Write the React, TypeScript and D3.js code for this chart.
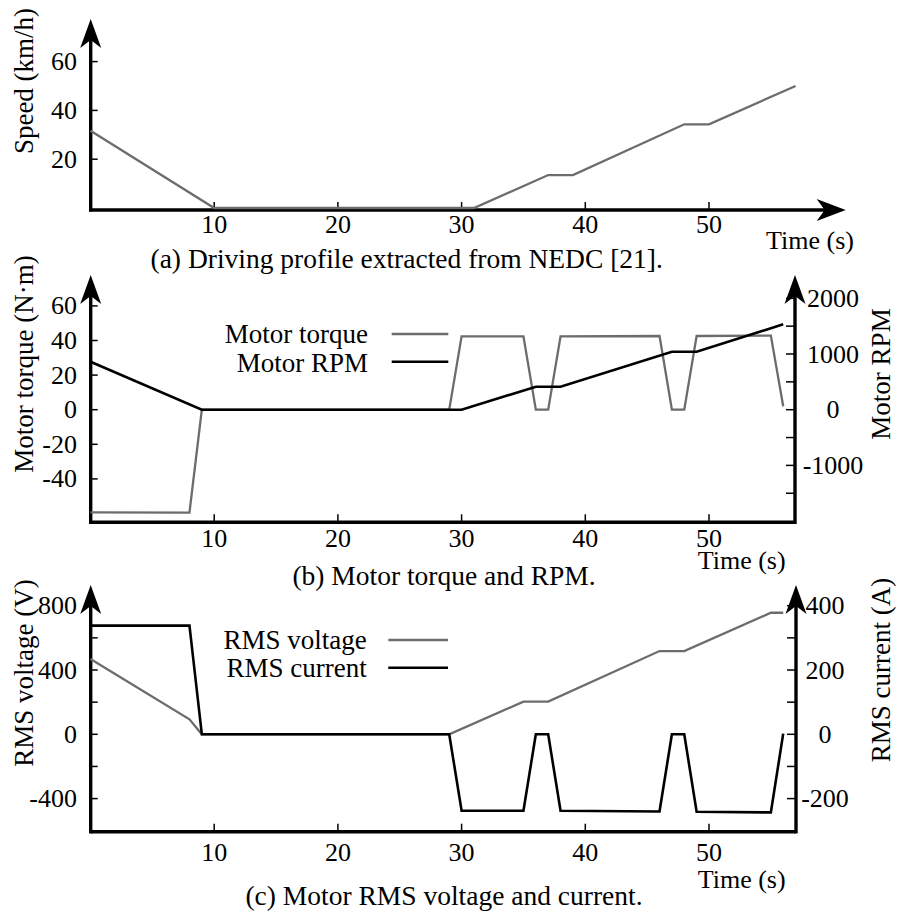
import React from "react";
import * as d3 from "d3";

// ---------- data ----------
const xTicks = [10, 20, 30, 40, 50];

const speedTime = [0, 10, 31, 37, 39, 48, 50, 57];
const speedValue = [31.7, 0, 0, 13.5, 13.5, 34.3, 34.3, 50];
const speedTicks = [20, 40, 60];

const torqueTime = [0, 8, 9, 29, 30, 35, 36, 37, 38, 46, 47, 48, 49, 55, 56];
const torqueValue = [-59.3, -59.5, 0, 0, 42.4, 42.4, 0, 0, 42.4, 42.6, 0, 0, 42.6, 42.8, 2];
const rpmTime = [0, 9, 30, 36, 38, 47, 49, 56];
const rpmValue = [862, 0, 0, 413, 413, 1041, 1041, 1533];
const torqueTicks = [-40, -20, 0, 20, 40, 60];
const rpmTicks = [-1500, -1000, -500, 0, 500, 1000, 1500, 2000];
const rpmLabels = [-1000, 0, 1000, 2000];

const voltTime = [0, 8, 9, 29, 35, 37, 46, 48, 55, 56];
const voltValue = [468, 93, 0, 0, 203, 203, 518, 518, 756, 756];
const currTime = [0, 8, 9, 29, 30, 35, 36, 37, 38, 46, 47, 48, 49, 55, 56];
const currValue = [338, 338, 0, 0, -238, -238, 0, 0, -238, -240, 0, 0, -241, -243, 2];
const voltTicks = [-400, -200, 0, 200, 400, 600, 800];
const voltLabels = [-400, 0, 400, 800];
const currTicks = [-200, -100, 0, 100, 200, 300, 400];
const currLabels = [-200, 0, 200, 400];

// ---------- style ----------
const FONT = "'Liberation Serif', 'Times New Roman', serif";
const GRAY = "#6c6c6c";
const AX = 3.4;

const x = d3.scaleLinear().domain([0, 57]).range([90.5, 90.5 + 12.37 * 57]);

function pts(t: number[], v: number[]): [number, number][] {
  return t.map((d, i) => [d, v[i]]);
}

function upArrow(cx: number, tip: number) {
  return `M${cx},${tip} L${cx - 10.5},${tip + 29} L${cx},${tip + 21} L${cx + 10.5},${tip + 29} Z`;
}
function rightArrow(tipX: number, cy: number) {
  return `M${tipX},${cy} L${tipX - 29},${cy - 11} L${tipX - 21},${cy} L${tipX - 29},${cy + 11} Z`;
}

const TXT = { fontFamily: FONT, fill: "#000" } as const;

function XAxis({ y0, labelY }: { y0: number; labelY: number }) {
  return (
    <g>
      {xTicks.map((t) => (
        <g key={t}>
          <line x1={x(t)} x2={x(t)} y1={y0} y2={y0 - 8} stroke="#000" strokeWidth={1.5} />
          <text x={x(t)} y={labelY} textAnchor="middle" fontSize={26} {...TXT}>
            {t}
          </text>
        </g>
      ))}
    </g>
  );
}

export default function App() {
  // Panel a scales
  const ya = d3.scaleLinear().domain([0, 60]).range([208, 208 - 146.4]);
  // Panel b scales
  const ybL = d3.scaleLinear().domain([0, 60]).range([409.7, 409.7 - 103.8]);
  const ybR = d3.scaleLinear().domain([0, 2000]).range([409.7, 409.7 - 111.4]);
  // Panel c scales
  const ycL = d3.scaleLinear().domain([0, 800]).range([734.3, 734.3 - 128.6]);
  const ycR = d3.scaleLinear().domain([0, 400]).range([734.3, 734.3 - 128.6]);

  const lineA = d3.line<[number, number]>().x((d) => x(d[0])).y((d) => ya(d[1]));
  const lineBL = d3.line<[number, number]>().x((d) => x(d[0])).y((d) => ybL(d[1]));
  const lineBR = d3.line<[number, number]>().x((d) => x(d[0])).y((d) => ybR(d[1]));
  const lineCL = d3.line<[number, number]>().x((d) => x(d[0])).y((d) => ycL(d[1]));
  const lineCR = d3.line<[number, number]>().x((d) => x(d[0])).y((d) => ycR(d[1]));

  const axL = 90.7;
  const axRb = 795;
  const axRc = 796;

  return (
    <div style={{ position: "absolute", left: 0, top: 0 }}>
      <svg width={897} height={913} style={{ display: "block", background: "#fff" }}>
        {/* ================= Panel (a) ================= */}
        <g>
          <line x1={axL} x2={axL} y1={211.5} y2={40} stroke="#000" strokeWidth={AX} />
          <path d={upArrow(axL, 19)} fill="#000" />
          <line x1={axL - 1.7} x2={825} y1={210} y2={210} stroke="#000" strokeWidth={AX} />
          <path d={rightArrow(845.7, 210)} fill="#000" />
          {speedTicks.map((v) => (
            <g key={v}>
              <line x1={axL} x2={axL + 7} y1={ya(v)} y2={ya(v)} stroke="#000" strokeWidth={1.5} />
              <text x={77} y={ya(v)} textAnchor="end" dominantBaseline="central" fontSize={26} {...TXT}>
                {v}
              </text>
            </g>
          ))}
          <XAxis y0={210} labelY={233} />
          <path d={lineA(pts(speedTime, speedValue)) || ""} fill="none" stroke={GRAY} strokeWidth={2.3} />
          <text x={810} y={249} textAnchor="middle" fontSize={26} {...TXT}>
            Time (s)
          </text>
          <text transform={`translate(33,81) rotate(-90)`} textAnchor="middle" fontSize={27} {...TXT}>
            Speed (km/h)
          </text>
          <text x={406.7} y={268} textAnchor="middle" fontSize={27.5} {...TXT}>
            (a) Driving profile extracted from NEDC [21].
          </text>
        </g>

        {/* ================= Panel (b) ================= */}
        <g>
          <line x1={axL} x2={axL} y1={524} y2={296} stroke="#000" strokeWidth={AX} />
          <path d={upArrow(axL, 275)} fill="#000" />
          <line x1={axRb} x2={axRb} y1={524} y2={296} stroke="#000" strokeWidth={AX} />
          <path d={upArrow(axRb, 275)} fill="#000" />
          <line x1={axL} x2={axRb} y1={522.3} y2={522.3} stroke="#000" strokeWidth={AX} />
          {torqueTicks.map((v) => (
            <g key={v}>
              <line x1={axL} x2={axL + 7} y1={ybL(v)} y2={ybL(v)} stroke="#000" strokeWidth={1.5} />
              <text x={77} y={ybL(v)} textAnchor="end" dominantBaseline="central" fontSize={26} {...TXT}>
                {v}
              </text>
            </g>
          ))}
          {rpmTicks.map((v) => (
            <line key={v} x1={axRb - 9} x2={axRb} y1={ybR(v)} y2={ybR(v)} stroke="#000" strokeWidth={1.5} />
          ))}
          {rpmLabels.map((v) => (
            <text key={v} x={833} y={ybR(v)} textAnchor="middle" dominantBaseline="central" fontSize={26} {...TXT}>
              {v}
            </text>
          ))}
          <XAxis y0={522.3} labelY={547} />
          <path d={lineBL(pts(torqueTime, torqueValue)) || ""} fill="none" stroke={GRAY} strokeWidth={2.3} />
          <path d={lineBR(pts(rpmTime, rpmValue)) || ""} fill="none" stroke="#000" strokeWidth={2.6} />
          {/* legend */}
          <text x={368} y={343} textAnchor="end" fontSize={27} {...TXT}>
            Motor torque
          </text>
          <line x1={391.7} x2={448.3} y1={334} y2={334} stroke={GRAY} strokeWidth={2.3} />
          <text x={368} y={371.5} textAnchor="end" fontSize={27} {...TXT}>
            Motor RPM
          </text>
          <line x1={391.7} x2={448.3} y1={361.7} y2={361.7} stroke="#000" strokeWidth={2.6} />
          <text x={741.7} y={569} textAnchor="middle" fontSize={26} {...TXT}>
            Time (s)
          </text>
          <text transform={`translate(33,364) rotate(-90)`} textAnchor="middle" fontSize={27} {...TXT}>
            Motor torque (N·m)
          </text>
          <text transform={`translate(890,374) rotate(-90)`} textAnchor="middle" fontSize={27} {...TXT}>
            Motor RPM
          </text>
          <text x={444} y={585} textAnchor="middle" fontSize={27.5} {...TXT}>
            (b) Motor torque and RPM.
          </text>
        </g>

        {/* ================= Panel (c) ================= */}
        <g>
          <line x1={axL} x2={axL} y1={833.4} y2={606} stroke="#000" strokeWidth={AX} />
          <path d={upArrow(axL, 585)} fill="#000" />
          <line x1={axRc} x2={axRc} y1={833.4} y2={606} stroke="#000" strokeWidth={AX} />
          <path d={upArrow(axRc, 585)} fill="#000" />
          <line x1={axL} x2={axRc} y1={831.7} y2={831.7} stroke="#000" strokeWidth={AX} />
          {voltTicks.map((v) => (
            <line key={v} x1={axL} x2={axL + 7} y1={ycL(v)} y2={ycL(v)} stroke="#000" strokeWidth={1.5} />
          ))}
          {voltLabels.map((v) => (
            <text key={v} x={77} y={ycL(v)} textAnchor="end" dominantBaseline="central" fontSize={26} {...TXT}>
              {v}
            </text>
          ))}
          {currTicks.map((v) => (
            <line key={v} x1={axRc - 9} x2={axRc} y1={ycR(v)} y2={ycR(v)} stroke="#000" strokeWidth={1.5} />
          ))}
          {currLabels.map((v) => (
            <text key={v} x={825} y={ycR(v)} textAnchor="middle" dominantBaseline="central" fontSize={26} {...TXT}>
              {v}
            </text>
          ))}
          <XAxis y0={831.7} labelY={861} />
          <path d={lineCL(pts(voltTime, voltValue)) || ""} fill="none" stroke={GRAY} strokeWidth={2.3} />
          <path d={lineCR(pts(currTime, currValue)) || ""} fill="none" stroke="#000" strokeWidth={2.6} />
          {/* legend */}
          <text x={366.7} y={649} textAnchor="end" fontSize={27} {...TXT}>
            RMS voltage
          </text>
          <line x1={388.3} x2={448} y1={640} y2={640} stroke={GRAY} strokeWidth={2.3} />
          <text x={366.7} y={677} textAnchor="end" fontSize={27} {...TXT}>
            RMS current
          </text>
          <line x1={388.3} x2={448} y1={667.7} y2={667.7} stroke="#000" strokeWidth={2.6} />
          <text x={741.7} y={887.5} textAnchor="middle" fontSize={26} {...TXT}>
            Time (s)
          </text>
          <text transform={`translate(33,673) rotate(-90)`} textAnchor="middle" fontSize={27} {...TXT}>
            RMS voltage (V)
          </text>
          <text transform={`translate(890,670) rotate(-90)`} textAnchor="middle" fontSize={27} {...TXT}>
            RMS current (A)
          </text>
          <text x={444} y={905} textAnchor="middle" fontSize={27.5} {...TXT}>
            (c) Motor RMS voltage and current.
          </text>
        </g>
      </svg>
    </div>
  );
}
